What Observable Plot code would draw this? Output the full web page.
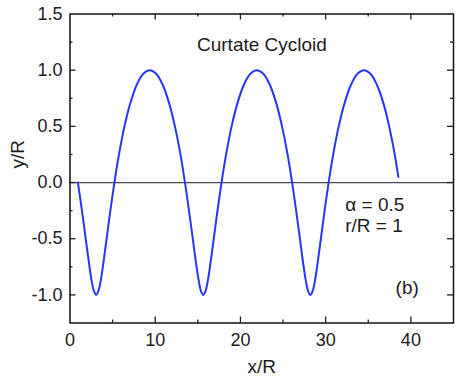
<!DOCTYPE html>
<html>
<head>
<meta charset="utf-8">
<script src="https://cdn.jsdelivr.net/npm/d3@7"></script>
<script src="https://cdn.jsdelivr.net/npm/@observablehq/plot@0.6"></script>
<style>
  html, body { margin: 0; padding: 0; background: #fff; }
  #chart { width: 457px; height: 382px; }
</style>
</head>
<body>
<div id="chart"></div>
<script>
// Curve points (x/R, y/R)
const curveX = [0.93,1.42,1.84,2.21,2.52,2.81,3.07,3.33,3.62,3.93,4.30,4.72,5.21,5.77,6.39,7.08,7.81,8.57,9.35,10.14,10.90,11.63,12.31,12.94,13.49,13.98,14.41,14.77,15.09,15.37,15.64,
  15.90,16.19,16.50,16.87,17.29,17.78,18.34,18.96,19.65,20.38,21.14,21.92,22.71,23.47,24.20,24.88,25.51,26.06,26.55,26.98,27.34,27.66,27.94,28.21,
  28.47,28.76,29.07,29.44,29.86,30.35,30.91,31.53,32.22,32.95,33.71,34.49,35.28,36.04,36.77,37.45,38.08,38.53];
const curveY = [0,-0.259,-0.5,-0.707,-0.866,-0.966,-1,-0.966,-0.866,-0.707,-0.5,-0.259,0,0.259,0.5,0.707,0.866,0.966,1,0.966,0.866,0.707,0.5,0.259,0,-0.259,-0.5,-0.707,-0.866,-0.966,-1,
  -0.966,-0.866,-0.707,-0.5,-0.259,0,0.259,0.5,0.707,0.866,0.966,1,0.966,0.866,0.707,0.5,0.259,0,-0.259,-0.5,-0.707,-0.866,-0.966,-1,
  -0.966,-0.866,-0.707,-0.5,-0.259,0,0.259,0.5,0.707,0.866,0.966,1,0.966,0.866,0.707,0.5,0.259,0.05];

const xDomain = [0, 45];
const yDomain = [-1.25, 1.5];
const xTickLabels = [0, 10, 20, 30, 40];
const yTickLabels = [-1.0, -0.5, 0.0, 0.5, 1.0, 1.5];
const xMajorTicks = [10, 20, 30, 40];
const xMinorTicks = [5, 15, 25, 35];
const yMajorTicks = [-1.0, -0.5, 0.0, 0.5, 1.0];
const yMinorTicks = [-0.75, -0.25, 0.25, 0.75, 1.25];

const titleText = ["Curtate Cycloid"];
const titlePos = {x: 14.9, y: 1.222};
const paramLabels = ["α = 0.5", "r/R = 1"];
const paramX = [32.3, 32.3];
const paramY = [-0.2, -0.385];
const panelLabel = ["(b)"];
const panelPos = {x: 38.2, y: -0.94};

const data = curveX.map((x, i) => ({x, y: curveY[i]}));

const W = 457, H = 382;
const mL = 69.5, mR = 4, mT = 13.5, mB = 59.5;
const innerW = W - mL - mR, innerH = H - mT - mB;
const majorLen = 6, minorLen = 3;
const font = "'Liberation Sans', Arial, Helvetica, sans-serif";
const ink = "#1c1c1c";

const chart = Plot.plot({
  width: W, height: H,
  marginLeft: mL, marginRight: mR, marginTop: mT, marginBottom: mB,
  style: {fontFamily: font, background: "#fff", color: ink, overflow: "visible"},
  x: {domain: xDomain},
  y: {domain: yDomain},
  marks: [
    Plot.ruleY([0], {stroke: "#4a4a4a", strokeWidth: 1.3}),
    Plot.line(data, {x: "x", y: "y", stroke: "#2536ff", strokeWidth: 2, curve: "catmull-rom"}),
    // inward ticks: bottom
    Plot.ruleX(xMajorTicks, {x: d => d, insetTop: innerH - majorLen, stroke: ink, strokeWidth: 1.3}),
    Plot.ruleX(xMinorTicks, {x: d => d, insetTop: innerH - minorLen, stroke: ink, strokeWidth: 1.3}),
    // top
    Plot.ruleX(xMajorTicks, {x: d => d, insetBottom: innerH - majorLen, stroke: ink, strokeWidth: 1.3}),
    Plot.ruleX(xMinorTicks, {x: d => d, insetBottom: innerH - minorLen, stroke: ink, strokeWidth: 1.3}),
    // left
    Plot.ruleY(yMajorTicks, {y: d => d, insetRight: innerW - majorLen, stroke: ink, strokeWidth: 1.3}),
    Plot.ruleY(yMinorTicks, {y: d => d, insetRight: innerW - minorLen, stroke: ink, strokeWidth: 1.3}),
    // right
    Plot.ruleY(yMajorTicks, {y: d => d, insetLeft: innerW - majorLen, stroke: ink, strokeWidth: 1.3}),
    Plot.ruleY(yMinorTicks, {y: d => d, insetLeft: innerW - minorLen, stroke: ink, strokeWidth: 1.3}),
    Plot.frame({stroke: "#111", strokeWidth: 1.5}),
    Plot.axisX(xTickLabels, {anchor: "bottom", tickSize: 0, tickPadding: 10.5, fontSize: 18, label: null, fill: ink, tickFormat: d => String(d)}),
    Plot.axisY(yTickLabels, {anchor: "left", tickSize: 0, tickPadding: 7.5, fontSize: 18, label: null, fill: ink, tickFormat: d => d.toFixed(1)}),
    Plot.text(["x/R"], {frameAnchor: "bottom", dy: 44, fontSize: 19, fill: ink, lineAnchor: "middle"}),
    Plot.text(["y/R"], {frameAnchor: "left", dx: -52, rotate: -90, fontSize: 19, fill: ink, lineAnchor: "middle"}),
    Plot.text(titleText, {x: () => titlePos.x, y: () => titlePos.y, textAnchor: "start", lineAnchor: "middle", fontSize: 19, fill: ink}),
    Plot.text(paramLabels, {x: (d, i) => paramX[i], y: (d, i) => paramY[i], textAnchor: "start", lineAnchor: "middle", fontSize: 19, fill: ink}),
    Plot.text(panelLabel, {x: () => panelPos.x, y: () => panelPos.y, textAnchor: "start", lineAnchor: "middle", fontSize: 19, fill: ink})
  ]
});
document.getElementById("chart").appendChild(chart);
</script>
</body>
</html>
